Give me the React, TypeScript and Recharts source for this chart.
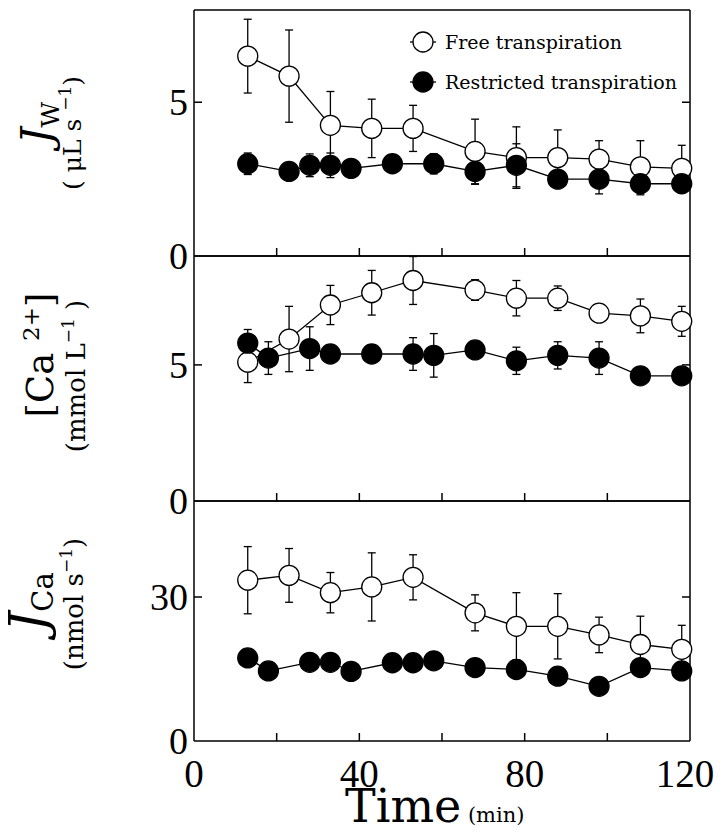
import React from 'react';
import { LineChart, Line, XAxis, YAxis, ErrorBar, Legend } from 'recharts';

const W = 721;
const H = 834;
const FONT = 'DejaVu Serif';
const NUM_FONT = 'Liberation Serif';

const seriesNames = ['Free transpiration', 'Restricted transpiration'];
const xTicks = [0, 20, 40, 60, 80, 100, 120];
const xLabelTicks = [0, 40, 80, 120];

// J_W (uL s-1)
const tFree = [13, 23, 33, 43, 53, 68, 78, 88, 98, 108, 118];
const jwFree = [6.5, 5.85, 4.25, 4.15, 4.15, 3.4, 3.2, 3.2, 3.15, 2.9, 2.85];
const jwFreeErr = [1.2, 1.5, 1.1, 0.95, 0.75, 1.05, 1.0, 0.9, 0.6, 0.85, 0.75];
const tJwRes = [13, 23, 28, 33, 38, 48, 58, 68, 78, 88, 98, 108, 118];
const jwRes = [3.0, 2.75, 2.95, 2.95, 2.85, 3.0, 3.0, 2.75, 2.95, 2.5, 2.5, 2.35, 2.35];
const jwResErr = [0.35, 0.2, 0.37, 0.4, 0.2, 0.2, 0.33, 0.42, 0.7, 0.25, 0.48, 0.36, 0.3];

// [Ca2+] (mmol L-1)
const caFree = [5.1, 5.95, 7.2, 7.65, 8.1, 7.75, 7.45, 7.45, 6.9, 6.8, 6.6];
const caFreeErr = [0.75, 1.2, 0.72, 0.82, 0.88, 0.38, 0.65, 0.45, 0.3, 0.62, 0.55];
const tCaRes = [13, 18, 28, 33, 43, 53, 58, 68, 78, 88, 98, 108, 118];
const caRes = [5.8, 5.25, 5.6, 5.4, 5.4, 5.4, 5.35, 5.55, 5.15, 5.35, 5.25, 4.6, 4.6];
const caResErr = [0.5, 0.6, 0.8, 0.2, 0.2, 0.6, 0.8, 0.2, 0.5, 0.5, 0.6, 0.2, 0.2];

// J_Ca (nmol s-1)
const jcaFree = [33.5, 34.5, 30.9, 32.1, 34.1, 26.7, 23.9, 23.9, 22.1, 20.1, 19.1];
const jcaFreeErr = [7.0, 5.6, 4.2, 7.1, 4.7, 3.75, 7.0, 6.8, 3.7, 5.9, 5.0];
const tJcaRes = [13, 18, 28, 33, 38, 48, 53, 58, 68, 78, 88, 98, 108, 118];
const jcaRes = [17.3, 14.6, 16.4, 16.4, 14.5, 16.3, 16.3, 16.7, 15.3, 14.9, 13.5, 11.4, 15.3, 14.6];

const rows = (t: number[], v: number[], e?: number[]) =>
  t.map((x, i) => ({ t: x, v: v[i], e: e ? e[i] : 0 }));

const axisStyle = { stroke: '#000', strokeWidth: 1.5 };

const OpenDot = (p: any) => (
  <circle key={`o${p.index}`} cx={p.cx} cy={p.cy} r={10} fill="#fff" stroke="#000" strokeWidth={1.3} />
);
const FilledDot = (p: any) => (
  <circle key={`f${p.index}`} cx={p.cx} cy={p.cy} r={10} fill="#000" stroke="#000" strokeWidth={1.3} />
);

const BottomTick = (p: any) => {
  const v = p.payload.value;
  return (
    <g>
      {v > 0 && v < 120 && <line x1={p.x} x2={p.x} y1={p.y} y2={p.y - 8} stroke="#000" strokeWidth={1.5} />}
      {p.showLabel && xLabelTicks.includes(v) && (
        <text
          x={p.x}
          y={p.y + 46}
          dx={v === 120 ? -5 : 0}
          textAnchor="middle"
          fontFamily={NUM_FONT}
          fontSize={39}
          fill="#000"
        >
          {v}
        </text>
      )}
    </g>
  );
};

const TopTick = (p: any) => {
  const v = p.payload.value;
  if (v <= 0 || v >= 120) return <g />;
  return <line x1={p.x} x2={p.x} y1={p.y} y2={p.y + 8} stroke="#000" strokeWidth={1.5} />;
};

const LeftTick = (p: any) => {
  const v = p.payload.value;
  return (
    <g>
      {v > 0 && <line x1={p.x} x2={p.x + 8} y1={p.y} y2={p.y} stroke="#000" strokeWidth={1.5} />}
      <text x={p.x - 6} y={p.y} dy={13} textAnchor="end" fontFamily={NUM_FONT} fontSize={38} fill="#000">
        {v}
      </text>
    </g>
  );
};

const RightTick = (p: any) => {
  const v = p.payload.value;
  if (v <= 0) return <g />;
  return <line x1={p.x} x2={p.x - 8} y1={p.y} y2={p.y} stroke="#000" strokeWidth={1.5} />;
};

const RotText = ({ x, y, size, children }: any) => (
  <text
    transform={`translate(${x},${y}) rotate(-90)`}
    textAnchor="middle"
    fontFamily={FONT}
    fontSize={size}
    fill="#000"
  >
    {children}
  </text>
);

const LegendBox = () => (
  <svg width={310} height={80}>
    {seriesNames.map((name, i) => (
      <g key={name} transform={`translate(0, ${i * 40})`}>
        <line x1={3} x2={29} y1={16} y2={16} stroke="#000" strokeWidth={1.3} />
        <circle cx={16} cy={16} r={10} fill={i ? '#000' : '#fff'} stroke="#000" strokeWidth={1.3} />
        <text x={38} y={23} fontFamily={FONT} fontSize={19} fill="#000">
          {name}
        </text>
      </g>
    ))}
  </svg>
);

type PanelProps = {
  top: number;
  bottom: number;
  yMax: number;
  yTicks: number[];
  free: { t: number; v: number; e: number }[];
  res: { t: number; v: number; e: number }[];
  resErr: boolean;
  xLabels?: boolean;
  legend?: boolean;
  yLabel: React.ReactNode;
};

const Panel = ({ top, bottom, yMax, yTicks, free, res, resErr, xLabels, legend, yLabel }: PanelProps) => (
  <div style={{ position: 'absolute', left: 0, top: 0 }}>
    <LineChart
      width={W}
      height={H}
      margin={{ top: top - 1, bottom: H - bottom - 1, left: 134, right: W - 690 - 1 }}
    >
      <XAxis
        xAxisId="b"
        type="number"
        dataKey="t"
        domain={[0, 120]}
        ticks={xTicks}
        interval={0}
        height={1}
        orientation="bottom"
        tickLine={false}
        tickSize={0}
        tickMargin={0}
        axisLine={axisStyle}
        tick={(p: any) => <BottomTick {...p} showLabel={xLabels} />}
        label={
          xLabels
            ? () => (
                <text x={345} y={bottom + 81} fontFamily={FONT} fill="#000">
                  <tspan fontSize={46}>Time</tspan>
                  <tspan fontSize={21}>{'  (min)'}</tspan>
                </text>
              )
            : undefined
        }
      />
      <XAxis
        xAxisId="t"
        type="number"
        dataKey="t"
        domain={[0, 120]}
        ticks={xTicks}
        interval={0}
        height={1}
        orientation="top"
        tickLine={false}
        tickSize={0}
        tickMargin={0}
        axisLine={axisStyle}
        tick={(p: any) => <TopTick {...p} />}
      />
      <YAxis
        yAxisId="l"
        type="number"
        domain={[0, yMax]}
        allowDataOverflow
        ticks={yTicks}
        interval={0}
        width={60}
        tickLine={false}
        tickSize={0}
        tickMargin={0}
        axisLine={axisStyle}
        tick={(p: any) => <LeftTick {...p} />}
        label={() => <g>{yLabel}</g>}
      />
      <YAxis
        yAxisId="r"
        orientation="right"
        type="number"
        domain={[0, yMax]}
        allowDataOverflow
        ticks={yTicks}
        interval={0}
        width={1}
        tickLine={false}
        tickSize={0}
        tickMargin={0}
        axisLine={axisStyle}
        tick={(p: any) => <RightTick {...p} />}
      />
      {legend && (
        <Legend
          layout="vertical"
          align="center"
          verticalAlign="middle"
          wrapperStyle={{ left: 407, top: 26, width: 310, height: 80 }}
          content={() => <LegendBox />}
        />
      )}
      <Line
        xAxisId="b"
        yAxisId="l"
        data={free}
        dataKey="v"
        name={seriesNames[0]}
        stroke="#000"
        strokeWidth={1.3}
        dot={OpenDot}
        activeDot={false}
        isAnimationActive={false}
      >
        <ErrorBar dataKey="e" direction="y" width={4} stroke="#000" strokeWidth={1.3} />
      </Line>
      <Line
        xAxisId="b"
        yAxisId="l"
        data={res}
        dataKey="v"
        name={seriesNames[1]}
        stroke="#000"
        strokeWidth={1.3}
        dot={FilledDot}
        activeDot={false}
        isAnimationActive={false}
      >
        {resErr && <ErrorBar dataKey="e" direction="y" width={4} stroke="#000" strokeWidth={1.3} />}
      </Line>
    </LineChart>
  </div>
);

export default function App() {
  return (
    <div style={{ position: 'absolute', left: 0, top: 0, width: W, height: H, background: '#fff' }}>
      <Panel
        top={10}
        bottom={256}
        yMax={8}
        yTicks={[0, 5]}
        free={rows(tFree, jwFree, jwFreeErr)}
        res={rows(tJwRes, jwRes, jwResErr)}
        resErr
        legend
        yLabel={
          <>
            <RotText x={51} y={123} size={42}>
              <tspan fontStyle="italic">J</tspan>
              <tspan fontSize={25} dy={8}>W</tspan>
            </RotText>
            <RotText x={81} y={133} size={25}>
              {'( μL s '}
              <tspan fontSize={17} dy={-10}>−1</tspan>
              <tspan dy={10}>)</tspan>
            </RotText>
          </>
        }
      />
      <Panel
        top={256}
        bottom={501}
        yMax={9}
        yTicks={[0, 5]}
        free={rows(tFree, caFree, caFreeErr)}
        res={rows(tCaRes, caRes, caResErr)}
        resErr
        yLabel={
          <>
            <RotText x={53} y={355} size={37}>
              {'[Ca '}
              <tspan fontSize={23} dy={-14}>2+</tspan>
              <tspan dy={14}>]</tspan>
            </RotText>
            <RotText x={85} y={376} size={26}>
              {'(mmol L'}
              <tspan fontSize={17} dy={-11}>−1</tspan>
              <tspan dy={11}>{' )'}</tspan>
            </RotText>
          </>
        }
      />
      <Panel
        top={501}
        bottom={741}
        yMax={50}
        yTicks={[0, 30]}
        free={rows(tFree, jcaFree, jcaFreeErr)}
        res={rows(tJcaRes, jcaRes)}
        resErr={false}
        xLabels
        yLabel={
          <>
            <RotText x={45} y={602} size={50}>
              <tspan fontStyle="italic">J</tspan>
              <tspan fontSize={29} dy={8}>Ca</tspan>
            </RotText>
            <RotText x={83} y={604} size={26}>
              {'(nmol s'}
              <tspan fontSize={17} dy={-11}>−1</tspan>
              <tspan dy={11}>)</tspan>
            </RotText>
          </>
        }
      />
    </div>
  );
}
